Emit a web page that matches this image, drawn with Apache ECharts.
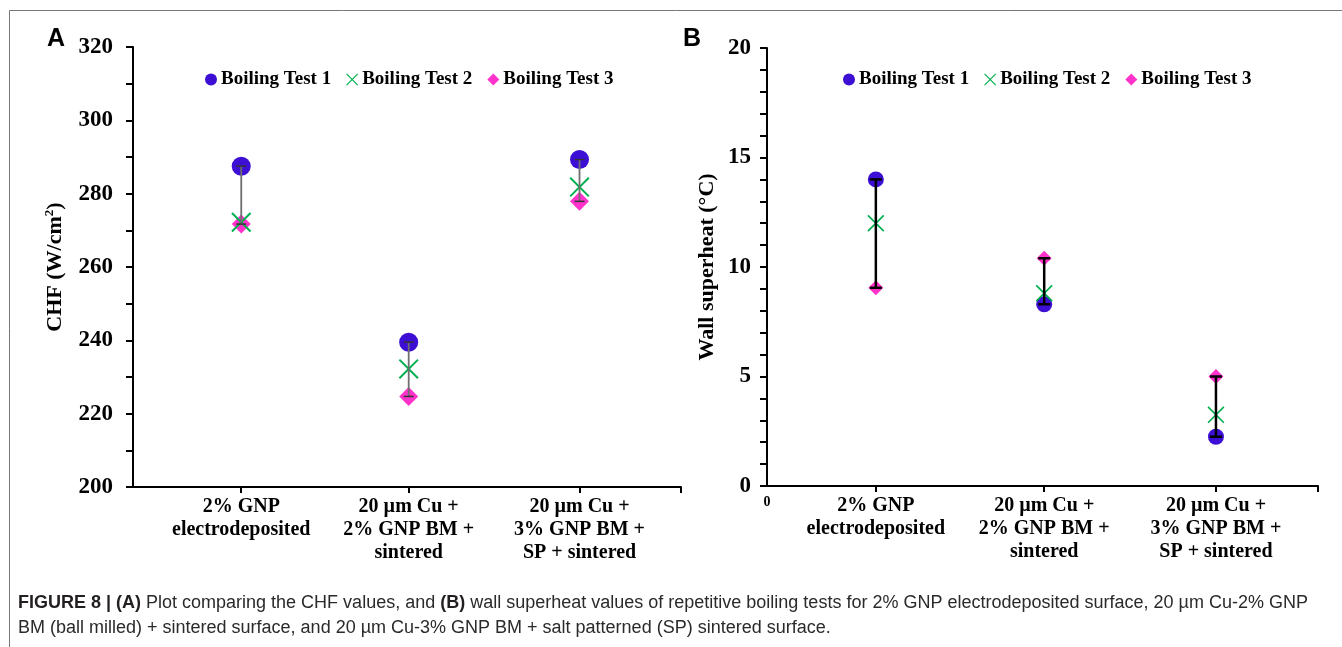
<!DOCTYPE html>
<html>
<head>
<meta charset="utf-8">
<script src="https://cdn.jsdelivr.net/npm/echarts@6/dist/echarts.min.js"></script>
<style>
html,body{margin:0;padding:0;background:#fff;}
#chart{width:1342px;height:647px;}
</style>
</head>
<body>
<div id="chart"></div>
<script>
// ---------------- data ----------------
const categories = ['2% GNP\nelectrodeposited', '20 µm Cu +\n2% GNP BM +\nsintered', '20 µm Cu +\n3% GNP BM +\nSP + sintered'];
const catPos = [0.64, 1.63, 2.64];
const seriesNames = ['Boiling Test 1', 'Boiling Test 2', 'Boiling Test 3'];
// Panel A: CHF (W/cm2)
const chfTest1 = [287.5, 239.5, 289.3];
const chfTest2 = [272.2, 232.2, 281.8];
const chfTest3 = [271.7, 224.7, 277.9];
// Panel B: wall superheat (°C)
const whTest1 = [14.0, 8.3, 2.25];
const whTest2 = [12.0, 8.8, 3.25];
const whTest3 = [9.05, 10.4, 5.0];

// ---------------- styles ----------------
const C1 = '#3d0fd4', C2 = '#00b050', C3 = '#ff33cc';
const XPATH = 'path://M0,0.7L0.7,0L10,9.3L9.3,10ZM9.3,0L10,0.7L0.7,10L0,9.3Z';
const SERIF = "'Liberation Serif', 'Times New Roman', serif";
const SANS = "'Liberation Sans', Arial, sans-serif";

function pts(vals) { return vals.map((v, i) => [catPos[i], v]); }
function bars(a, b, c) { return a.map((v, i) => [catPos[i], Math.min(v, b[i], c[i]), Math.max(v, b[i], c[i])]); }
function nearestCat(v) {
  let best = 0;
  catPos.forEach((p, i) => { if (Math.abs(p - v) < Math.abs(catPos[best] - v)) best = i; });
  return best;
}
function errRender(color, lw, capW, stemColor, stemW) {
  return function (params, api) {
    const x = api.value(0);
    const lo = api.coord([x, api.value(1)]);
    const hi = api.coord([x, api.value(2)]);
    return {
      type: 'group',
      children: [
        { type: 'line', shape: { x1: lo[0], y1: lo[1], x2: hi[0], y2: hi[1] }, style: { stroke: stemColor, lineWidth: stemW } },
        { type: 'line', shape: { x1: lo[0] - capW / 2, y1: lo[1], x2: lo[0] + capW / 2, y2: lo[1] }, style: { stroke: color, lineWidth: lw } },
        { type: 'line', shape: { x1: hi[0] - capW / 2, y1: hi[1], x2: hi[0] + capW / 2, y2: hi[1] }, style: { stroke: color, lineWidth: lw } }
      ]
    };
  };
}

const axisLineStyle = { color: '#000', width: 2 };

function xAxisFor(gridIndex, showZero) {
  const labelVals = showZero ? [0].concat(catPos) : catPos.slice();
  return {
    type: 'value', gridIndex: gridIndex, min: 0, max: 3.24,
    axisLine: { show: true, lineStyle: axisLineStyle },
    splitLine: { show: false },
    axisTick: { show: true, inside: false, length: 6, lineStyle: { color: '#000', width: 2 }, customValues: catPos.concat([3.24]) },
    axisLabel: {
      show: true, margin: 8, customValues: labelVals,
      fontFamily: SERIF, fontWeight: 'bold', fontSize: 20, lineHeight: 23, color: '#000', align: 'center',
      formatter: function (v) {
        if (Math.abs(v) < 1e-6) return '{z|0}';
        return categories[nearestCat(v)];
      },
      rich: { z: { fontFamily: SERIF, fontWeight: 'bold', fontSize: 14, lineHeight: 16, color: '#000' } }
    }
  };
}

function yAxisFor(gridIndex, min, max, interval, minorSplit, name, nameGap, labelMargin, rich) {
  return {
    type: 'value', gridIndex: gridIndex, min: min, max: max, interval: interval,
    name: name, nameLocation: 'middle', nameGap: nameGap, nameRotate: 90,
    nameTextStyle: { fontFamily: SERIF, fontWeight: 'bold', fontSize: 22, color: '#000', rich: rich },
    axisLine: { show: true, lineStyle: axisLineStyle },
    splitLine: { show: false },
    axisTick: { show: true, inside: false, length: 7, lineStyle: { color: '#000', width: 2 } },
    minorTick: { show: true, splitNumber: minorSplit, length: 7, lineStyle: { color: '#000', width: 2 } },
    minorSplitLine: { show: false },
    axisLabel: { margin: labelMargin, fontFamily: SERIF, fontWeight: 'bold', fontSize: 23, color: '#000' }
  };
}

function scatterSet(xi, yi, v1, v2, v3, sizes) {
  return [
    { name: seriesNames[0], type: 'scatter', xAxisIndex: xi, yAxisIndex: yi, symbol: 'circle', symbolSize: sizes[0], itemStyle: { color: C1, opacity: 1 }, data: pts(v1), z: 2 },
    { name: seriesNames[1], type: 'scatter', xAxisIndex: xi, yAxisIndex: yi, symbol: XPATH, symbolSize: sizes[1], itemStyle: { color: C2, opacity: 1 }, data: pts(v2), z: 3 },
    { name: seriesNames[2], type: 'scatter', xAxisIndex: xi, yAxisIndex: yi, symbol: 'diamond', symbolSize: sizes[2], itemStyle: { color: C3, opacity: 1 }, data: pts(v3), z: 2 }
  ];
}

function legendFor(left) {
  return {
    left: left, top: 65, orient: 'horizontal', itemGap: 15, itemWidth: 12, itemHeight: 12,
    selectedMode: false,
    textStyle: { fontFamily: SERIF, fontWeight: 'bold', fontSize: 19, color: '#000', padding: [0, 0, 0, -1] },
    data: [
      { name: seriesNames[0], icon: 'circle', itemStyle: { color: C1 } },
      { name: seriesNames[1], icon: XPATH, itemStyle: { color: C2 } },
      { name: seriesNames[2], icon: 'diamond', itemStyle: { color: C3 } }
    ]
  };
}

const chart = echarts.init(document.getElementById('chart'), null, { renderer: 'canvas' });

const option = {
  backgroundColor: '#fff',
  animation: false,
  grid: [
    { left: 133, top: 47, width: 548, height: 440, outerBoundsMode: 'none', containLabel: false },
    { left: 767, top: 48, width: 551, height: 438, outerBoundsMode: 'none', containLabel: false }
  ],
  legend: [legendFor(200), legendFor(838)],
  xAxis: [xAxisFor(0, false), xAxisFor(1, true)],
  yAxis: [
    yAxisFor(0, 200, 320, 20, 2, '{a|CHF (W/cm}{s|2}{a|)}', 65, 20,
      { a: { fontFamily: SERIF, fontWeight: 'bold', fontSize: 22, color: '#000' },
        s: { fontFamily: SERIF, fontWeight: 'bold', fontSize: 13, color: '#000', padding: [0, 0, 12, 0] } }),
    yAxisFor(1, 0, 20, 5, 5, 'Wall superheat (°C)', 49, 16, null)
  ],
  series: [].concat(
    scatterSet(0, 0, chfTest1, chfTest2, chfTest3, [19, 20, 19]),
    [{ type: 'custom', name: 'errA', xAxisIndex: 0, yAxisIndex: 0, z: 5, silent: true,
       renderItem: errRender('#333', 1.5, 10, '#6e6e6e', 1.8), encode: { x: 0, y: [1, 2] },
       data: bars(chfTest1, chfTest2, chfTest3) }],
    scatterSet(1, 1, whTest1, whTest2, whTest3, [16, 17, 15]),
    [{ type: 'custom', name: 'errB', xAxisIndex: 1, yAxisIndex: 1, z: 5, silent: true,
       renderItem: errRender('#000', 2.5, 12, '#000', 2.5), encode: { x: 0, y: [1, 2] },
       data: bars(whTest1, whTest2, whTest3) }]
  ),
  graphic: [
    { type: 'line', shape: { x1: 9.5, y1: 10.5, x2: 1342, y2: 10.5 }, style: { stroke: '#777', lineWidth: 1 }, silent: true },
    { type: 'line', shape: { x1: 9.5, y1: 10.5, x2: 9.5, y2: 647 }, style: { stroke: '#777', lineWidth: 1 }, silent: true },
    { type: 'text', left: 47, top: 27, style: { text: 'A', fontFamily: SANS, fontWeight: 'bold', fontSize: 25, fill: '#000' } },
    { type: 'text', left: 683, top: 27, style: { text: 'B', fontFamily: SANS, fontWeight: 'bold', fontSize: 25, fill: '#000' } },
    { type: 'text', left: 18, top: 594, style: {
        text: '{b|FIGURE 8 | (A)} Plot comparing the CHF values, and {b|(B)} wall superheat values of repetitive boiling tests for 2% GNP electrodeposited surface, 20 µm Cu-2% GNP',
        fontFamily: SANS, fontSize: 18, fill: '#2a2a2a',
        rich: { b: { fontFamily: SANS, fontSize: 18, fontWeight: 'bold', fill: '#231f20' } } } },
    { type: 'text', left: 18, top: 619, style: {
        text: 'BM (ball milled) + sintered surface, and 20 µm Cu-3% GNP BM + salt patterned (SP) sintered surface.',
        fontFamily: SANS, fontSize: 18, fill: '#2a2a2a' } }
  ]
};
chart.setOption(option);
</script>
</body>
</html>
